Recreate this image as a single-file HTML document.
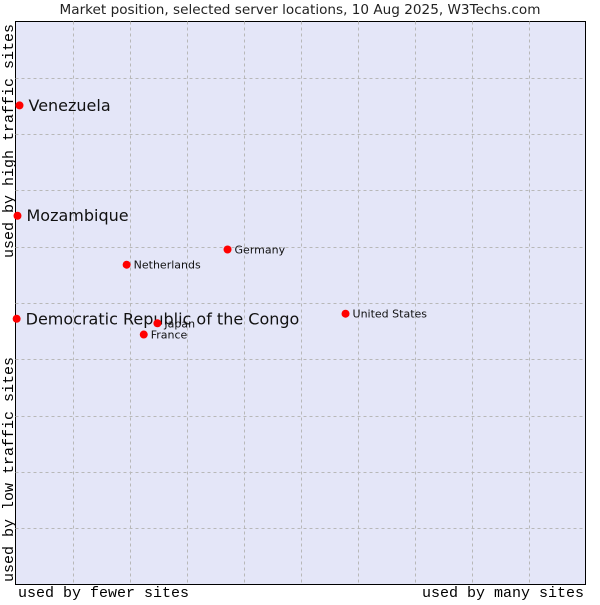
<!DOCTYPE html>
<html><head><meta charset="utf-8"><style>
body{margin:0;background:#fff;}
svg text{font-family:"DejaVu Sans","Liberation Sans",sans-serif;}
.mono{font-family:"Liberation Mono","DejaVu Sans Mono",monospace;}
</style></head><body>
<svg id="chart" width="600" height="600" xmlns="http://www.w3.org/2000/svg">
<text x="300" y="14" text-anchor="middle" font-size="13.6" fill="#222">Market position, selected server locations, 10 Aug 2025, W3Techs.com</text>
<rect x="15.5" y="21.5" width="570" height="563" fill="#e4e6f8" stroke="#000" stroke-width="1"/>
<g id="grid"></g>
<g id="points"></g>
<text class="mono" x="18" y="597" font-size="15" fill="#000">used by fewer sites</text>
<text class="mono" x="584" y="597" text-anchor="end" font-size="15" fill="#000">used by many sites</text>
<text class="mono" transform="translate(13,24) rotate(-90)" text-anchor="end" font-size="15" fill="#000">used by high traffic sites</text>
<text class="mono" transform="translate(13,582) rotate(-90)" font-size="15" fill="#000">used by low traffic sites</text>
</svg>
<script>
const names=["Venezuela","Mozambique","Democratic Republic of the Congo","Netherlands","Germany","Japan","France","United States"];
const xVals=[0.7,0.35,0.2,19.5,37.2,24.9,22.5,57.9];
const yVals=[85.1,65.5,47.2,56.8,59.5,46.4,44.4,48.1];
const highlighted=[true,true,true,false,false,false,false,false];
const L=15.5,T=21.5,W=570,H=563;
const sx=v=>L+v/100*W, sy=v=>T+H-v/100*H;
const ns="http://www.w3.org/2000/svg";
const g=document.getElementById('grid');
for(let i=1;i<10;i++){
 const lv=document.createElementNS(ns,'line');
 
 
 const x=Math.round(sx(i*10))+0.5;
 lv.setAttribute('x1',x);lv.setAttribute('x2',x);lv.setAttribute('y1',T);lv.setAttribute('y2',T+H);
 lv.setAttribute('stroke','#b8b8b8');lv.setAttribute('stroke-dasharray','3,3');g.appendChild(lv);
 const lh=document.createElementNS(ns,'line');
 
 
 const y=Math.round(sy(i*10))+0.5;
 lh.setAttribute('y1',y);lh.setAttribute('y2',y);lh.setAttribute('x1',L);lh.setAttribute('x2',L+W);
 lh.setAttribute('stroke','#b8b8b8');lh.setAttribute('stroke-dasharray','3,3');g.appendChild(lh);
}
const p=document.getElementById('points');
names.forEach((n,i)=>{
 const cx=sx(xVals[i]),cy=sy(yVals[i]);
 const c=document.createElementNS(ns,'circle');
 
 
 c.setAttribute('cx',cx);c.setAttribute('cy',cy);c.setAttribute('r',4);c.setAttribute('fill','#ff0000');
 p.appendChild(c);
 const t=document.createElementNS(ns,'text');
 
 
 const big=highlighted[i];
 t.setAttribute('x',cx+(big?9:7));t.setAttribute('y',cy+(big?5.5:4));
 t.setAttribute('font-size',big?16:11);t.setAttribute('fill','#111');
 t.textContent=n;p.appendChild(t);
});
</script>
</body></html>
